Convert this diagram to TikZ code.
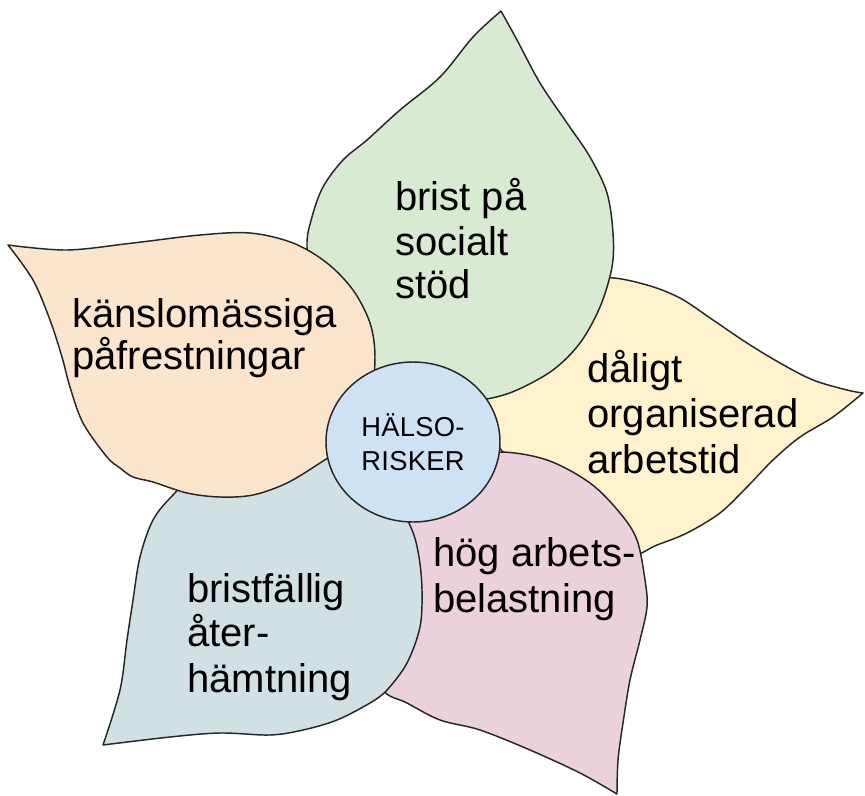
\documentclass[tikz,border=0pt]{standalone}
\usepackage{fontspec}
\setmainfont{Liberation Sans}
\newfontfamily\hubfont[LetterSpace=1]{Liberation Sans}
\usetikzlibrary{shapes.geometric}
\definecolor{pgreen}{HTML}{D9EAD3}
\definecolor{porange}{HTML}{FCE5CD}
\definecolor{pyellow}{HTML}{FFF2CC}
\definecolor{ppink}{HTML}{EAD1DC}
\definecolor{pgrey}{HTML}{D0E0E3}
\definecolor{pblue}{HTML}{CFE2F3}
\begin{document}
\begin{tikzpicture}[x=0.75pt,y=-0.75pt,
  petal/.style={draw=black!85,line width=1.1pt,line join=round},
  lbl/.style={anchor=base west,inner sep=0pt,font=\fontsize{30}{34}\selectfont},
  hub/.style={draw=black!85,line width=1.1pt,fill=pblue,ellipse,inner sep=0pt,
    minimum width=130.5pt,minimum height=120pt,align=left,
    font=\hubfont\fontsize{20.5}{25.5}\selectfont}]
\useasboundingbox (0,0) rectangle (865,796);
% yellow
\filldraw[petal,fill=pyellow] plot[smooth,tension=0.55] coordinates {
(863,393) (833,417) (800,437) (773,460) (747,487) (720,513) (687,533) (657,545) (627,556)
(590,530) (530,480) (480,420) (500,385) (560,330) (600,290) (610,278)
(647,285) (680,298) (713,320) (747,343) (780,363) (813,380) (847,390) (863,393)} -- cycle;
% pink
\filldraw[petal,fill=ppink] plot[smooth,tension=0.55] coordinates {
(617,794) (580,773) (530,750) (480,730) (440,720) (407,703) (383,690)
(370,650) (380,580) (420,505) (460,460) (500,452)
(547,460) (590,483) (620,513) (637,540) (645,580) (647,607) (640,640) (630,680) (623,723) (618,760) (617,794)} -- cycle;
% green
\filldraw[petal,fill=pgreen] plot[smooth,tension=0.55] coordinates {
(501,11) (517,40) (540,83) (567,123) (590,157) (607,193) (613,233) (612,267) (600,307)
(580,343) (553,370) (517,390) (487,399) (440,405) (383,387) (327,331) (315,300) (307,247)
(312,217) (323,187) (343,160) (367,140) (400,110) (440,77) (473,37) (501,11)} -- cycle;
% grey
\filldraw[petal,fill=pgrey] plot[smooth,tension=0.55] coordinates {
(103,745) (120,690) (127,640) (133,600) (140,557) (153,520) (173,495)
(209,462) (280,440) (351,457) (395,500) (412,530)
(419,557) (422,590) (420,627) (407,663) (387,690) (370,703) (337,720) (303,730) (270,735) (220,733) (170,737) (103,745)} -- cycle;
% orange
\filldraw[petal,fill=porange] plot[smooth,tension=0.55] coordinates {
(8,245) (67,250) (133,243) (200,235) (250,233) (293,243) (327,263) (353,290) (370,323) (375,357)
(370,395) (350,430) (333,453)
(320,463) (287,483) (253,495) (220,497) (187,493) (153,482) (133,477) (120,468) (107,457) (83,423)
(70,387) (62,357) (50,320) (33,280) (8,245)} -- cycle;
% hub
\node[hub] (hub) at (413,442) {HÄLSO-\\RISKER};
% labels
\node[lbl] (g1) at (395,210) {brist på};
\node[lbl] (g2) at (395,255) {socialt};
\node[lbl] (g3) at (395,298) {stöd};
\node[lbl] (o1) at (72,327) {känslomässiga};
\node[lbl] (o2) at (72,369) {påfrestningar};
\node[lbl] (y1) at (587,382) {dåligt};
\node[lbl] (y2) at (587,427) {organiserad};
\node[lbl] (y3) at (587,473) {arbetstid};
\node[lbl] (r1) at (187,602) {bristfällig};
\node[lbl] (r2) at (187,646) {åter-};
\node[lbl] (r3) at (187,692) {hämtning};
\node[lbl] (p1) at (433,566) {hög arbets-};
\node[lbl] (p2) at (433,612) {belastning};
\end{tikzpicture}
\end{document}
